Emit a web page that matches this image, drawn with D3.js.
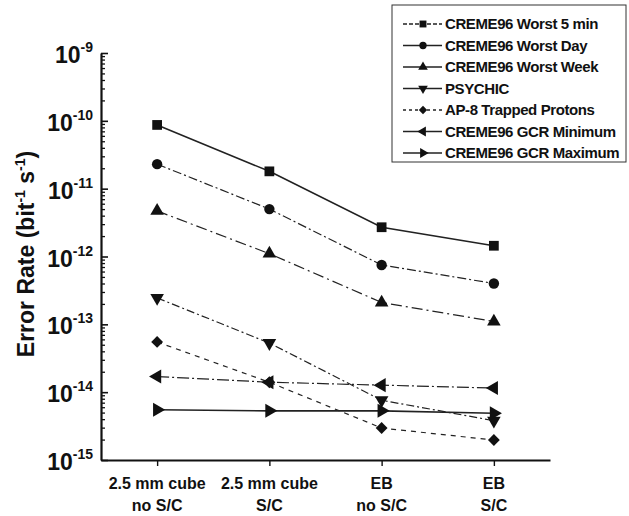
<!DOCTYPE html>
<html>
<head>
<meta charset="utf-8">
<style>
  body { margin: 0; background: #fff; }
  svg { font-family: "Liberation Sans", Arial, sans-serif; }
</style>
</head>
<body>
<div id="chart"></div>
<script src="https://d3js.org/d3.v7.min.js"></script>
<script>
// categories and series values
var categories = ["2.5 mm cube no S/C", "2.5 mm cube S/C", "EB no S/C", "EB S/C"];
var catLine1 = ["2.5 mm cube", "2.5 mm cube", "EB", "EB"];
var catLine2 = ["no S/C", "S/C", "no S/C", "S/C"];

var worst5min = [8.7e-11, 1.8e-11, 2.7e-12, 1.44e-12];
var worstDay  = [2.3e-11, 5.0e-12, 7.5e-13, 4.0e-13];
var worstWeek = [4.7e-12, 1.1e-12, 2.1e-13, 1.1e-13];
var psychic   = [2.45e-13, 5.3e-14, 7.6e-15, 3.8e-15];
var ap8       = [5.5e-14, 1.4e-14, 2.96e-15, 1.97e-15];
var gcrMin    = [1.7e-14, 1.4e-14, 1.27e-14, 1.15e-14];
var gcrMax    = [5.5e-15, 5.3e-15, 5.3e-15, 4.9e-15];

var seriesNames = ["CREME96 Worst 5 min", "CREME96 Worst Day", "CREME96 Worst Week",
                   "PSYCHIC", "AP-8 Trapped Protons", "CREME96 GCR Minimum", "CREME96 GCR Maximum"];
var yTickExp = [-9, -10, -11, -12, -13, -14, -15];

// marker + dash style per series
var styles = [
  {sym: d3.symbolSquare,   rot: 0,   size: 95,  dash: null},
  {sym: d3.symbolCircle,   rot: 0,   size: 85,  dash: "9,3,2,3"},
  {sym: d3.symbolTriangle, rot: 0,   size: 80,  dash: "11,4,2,4"},
  {sym: d3.symbolTriangle, rot: 180, size: 80,  dash: "8,3,2,3"},
  {sym: d3.symbolSquare,   rot: 45,  size: 70,  dash: "5,5"},
  {sym: d3.symbolTriangle, rot: -90, size: 85,  dash: "12,3,2,3"},
  {sym: d3.symbolTriangle, rot: 90,  size: 85,  dash: null}
];
var allSeries = [worst5min, worstDay, worstWeek, psychic, ap8, gcrMin, gcrMax];

var W = 629, H = 516;
var svg = d3.select("#chart").append("svg")
    .attr("width", W)
    .attr("height", H);

var x = d3.scalePoint()
    .domain(categories)
    .range([101, 550])
    .padding(0.5);

var y = d3.scaleLog()
    .domain([1e-15, 1e-9])
    .range([460, 53]);

// minor ticks
var minor = [];
for (var e = -15; e < -9; e++) {
  for (var k = 2; k <= 9; k++) minor.push(k * Math.pow(10, e));
}
svg.append("g")
    .attr("transform", "translate(101,0)")
    .call(d3.axisRight(y).tickValues(minor).tickSize(4).tickFormat(""))
    .call(function(g) { g.select(".domain").remove(); })
    .selectAll("line").attr("stroke", "#111").attr("stroke-width", 1.3);

// major ticks + axis line
var yAxis = svg.append("g")
    .attr("transform", "translate(101,0)")
    .call(d3.axisRight(y).tickValues(yTickExp.map(function(p) { return Math.pow(10, p); }))
      .tickSize(7).tickSizeOuter(0).tickFormat(""));
yAxis.select(".domain").attr("stroke", "#111").attr("stroke-width", 2.2);
yAxis.selectAll("line").attr("stroke", "#111").attr("stroke-width", 1.6);

// y tick labels 10^n
yTickExp.forEach(function(p) {
  var t = svg.append("text")
      .attr("x", 93)
      .attr("y", y(Math.pow(10, p)) + 10)
      .attr("text-anchor", "end")
      .attr("font-weight", "bold")
      .attr("font-size", 23)
      .attr("fill", "#111");
  t.append("tspan").text("10");
  t.append("tspan").attr("dy", -11).attr("font-size", 14).text(p);
});

// x axis
var xAxis = svg.append("g")
    .attr("transform", "translate(0,460)")
    .call(d3.axisBottom(x).tickSize(6).tickSizeOuter(0).tickFormat(""));
xAxis.select(".domain").attr("stroke", "#111").attr("stroke-width", 2.2);
xAxis.selectAll("line").attr("stroke", "#111").attr("stroke-width", 1.4);

categories.forEach(function(c, i) {
  svg.append("text")
      .attr("x", x(c))
      .attr("y", 489)
      .attr("text-anchor", "middle")
      .attr("font-weight", "bold")
      .attr("font-size", 16)
      .attr("fill", "#111")
      .text(catLine1[i]);
  svg.append("text")
      .attr("x", x(c))
      .attr("y", 511)
      .attr("text-anchor", "middle")
      .attr("font-weight", "bold")
      .attr("font-size", 16)
      .attr("fill", "#111")
      .text(catLine2[i]);
});

// y axis title
var yt = svg.append("text")
    .attr("transform", "translate(34,254) rotate(-90)")
    .attr("text-anchor", "middle")
    .attr("font-weight", "bold")
    .attr("font-size", 23)
    .attr("fill", "#111");
yt.append("tspan").text("Error Rate (bit");
yt.append("tspan").attr("dy", -9).attr("font-size", 14).text("-1");
yt.append("tspan").attr("dy", 9).text(" s");
yt.append("tspan").attr("dy", -9).attr("font-size", 14).text("-1");
yt.append("tspan").attr("dy", 9).text(")");

// lines + markers
var line = d3.line()
    .x(function(d, i) { return x(categories[i]); })
    .y(function(d) { return y(d); });

allSeries.forEach(function(vals, s) {
  var st = styles[s];
  svg.append("path")
      .datum(vals)
      .attr("d", line)
      .attr("fill", "none")
      .attr("stroke", "#222")
      .attr("stroke-width", s === 0 || s === 6 ? 1.6 : 1.2)
      .attr("stroke-dasharray", st.dash);
  svg.selectAll(".m" + s)
      .data(vals)
      .enter().append("path")
      .attr("class", "m" + s)
      .attr("d", d3.symbol().type(st.sym).size(st.size))
      .attr("transform", function(d, i) {
        return "translate(" + x(categories[i]) + "," + y(d) + ") rotate(" + st.rot + ")";
      })
      .attr("fill", "#111");
});

// legend
var legend = svg.append("g");
legend.append("rect")
    .attr("x", 392)
    .attr("y", 5)
    .attr("width", 234)
    .attr("height", 157)
    .attr("fill", "#fff")
    .attr("stroke", "#333")
    .attr("stroke-width", 1);

var item = legend.selectAll(".item")
    .data(seriesNames)
    .enter().append("g")
    .attr("class", "item")
    .attr("transform", function(d, i) { return "translate(0," + (24 + i * 21.5) + ")"; });

item.append("line")
    .attr("x1", 403).attr("x2", 442)
    .attr("y1", 0).attr("y2", 0)
    .attr("stroke", "#222")
    .attr("stroke-width", 1.3)
    .attr("stroke-dasharray", function(d, i) { return i === 0 ? "4,2" : (i === 4 ? "3,3" : null); });

item.append("path")
    .attr("d", function(d, i) { return d3.symbol().type(styles[i].sym).size(styles[i].size * 0.5)(); })
    .attr("transform", function(d, i) { return "translate(423,0) rotate(" + styles[i].rot + ")"; })
    .attr("fill", "#111");

item.append("text")
    .attr("x", 445)
    .attr("y", 0)
    .attr("dy", "0.35em")
    .attr("font-size", 15)
    .attr("font-weight", "bold")
    .attr("letter-spacing", -0.4)
    .attr("fill", "#111")
    .text(function(d) { return d; });
</script>
</body>
</html>
